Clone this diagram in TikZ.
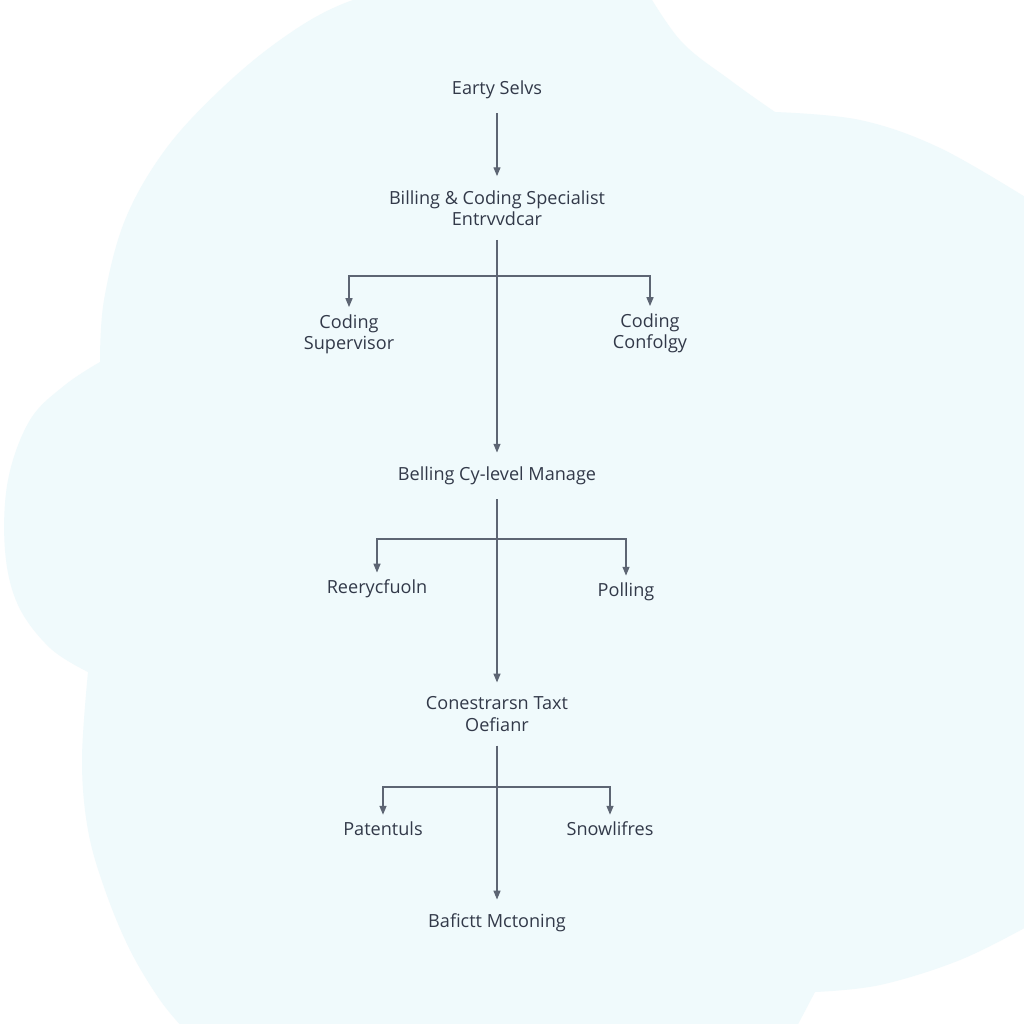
\documentclass[tikz,border=0pt]{standalone}
\usepackage{fontspec}
\setmainfont{Open Sans}
\usetikzlibrary{arrows.meta}

\definecolor{blobfill}{RGB}{240,250,252}
\definecolor{inkcol}{RGB}{50,57,73}
\definecolor{linecol}{RGB}{93,101,115}

\begin{document}
\begin{tikzpicture}[x=0.02cm,y=-0.02cm,
    lvl/.style={inner sep=8pt, align=center, text=inkcol, font=\fontsize{10.3}{12}\selectfont},
    leaf/.style={inner sep=4pt, align=center, text=inkcol, font=\fontsize{10.3}{12}\selectfont},
    arr/.style={draw=linecol, line width=0.65pt, -{Triangle[length=5pt,width=4pt]}}]

            % Page and pale background blob
            \useasboundingbox (0,0) rectangle (1024,1024);
            \fill[white] (0,0) rectangle (1024,1024);
            \fill[blobfill] plot[smooth, tension=0.6] coordinates {(185,1030) (160,1000) (130,950) (105,890) (88,830) (82,760) (88,672)}
                -- plot[smooth, tension=0.6] coordinates {(88,672) (50,648) (18,605) (5,550) (8,480) (30,420) (65,385) (100,362)}
                -- plot[smooth, tension=0.6] coordinates {(100,362) (104,300) (125,220) (165,150) (220,90) (280,40) (340,5) (420,-20)}
                -- (640,-20) -- plot[smooth, tension=0.6] coordinates {(640,-20) (680,40) (730,80) (775,112)}
                -- plot[smooth, tension=0.6] coordinates {(775,112) (860,120) (940,148) (1030,200)}
                -- (1040,200) -- (1040,925) -- plot[smooth, tension=0.6] coordinates {(1030,925) (960,960) (880,985) (815,992)}
                -- (795,1030) -- cycle;

            % Levels of the ladder
            \node (selvs) at (497,90) [lvl] {Earty Selvs};
            \node (spec) at (497,208) [lvl] {Billing \& Coding Specialist\\Entrvvdcar};
            \node (sup) at (349,334) [leaf] {Coding\\Supervisor};
            \node (conf) at (650,333) [leaf] {Coding\\Confolgy};
            \node (mgr) at (497,476) [lvl] {Belling Cy-level Manage};
            \node (reer) at (377,589) [leaf] {Reerycfuoln};
            \node (poll) at (626,592) [leaf] {Polling};
            \node (tax) at (497,714) [lvl] {Conestrarsn Taxt\\Oefianr};
            \node (pat) at (383,829) [leaf] {Patentuls};
            \node (snow) at (610,829) [leaf] {Snowlifres};
            \node (baf) at (497,923) [lvl] {Bafictt Mctoning};

            % Trunk
            \draw[arr] (selvs) -- (spec);
            \draw[arr] (spec) -- (mgr);
            \draw[arr] (mgr) -- (tax);
            \draw[arr] (tax) -- (baf);

            % Side branches
            \coordinate (j1) at (497,276);
            \coordinate (j2) at (497,539);
            \coordinate (j3) at (497,787);
            \draw[arr] (j1) -| (sup);
            \draw[arr] (j1) -| (conf);
            \draw[arr] (j2) -| (reer);
            \draw[arr] (j2) -| (poll);
            \draw[arr] (j3) -| (pat);
            \draw[arr] (j3) -| (snow);

\end{tikzpicture}
\end{document}
